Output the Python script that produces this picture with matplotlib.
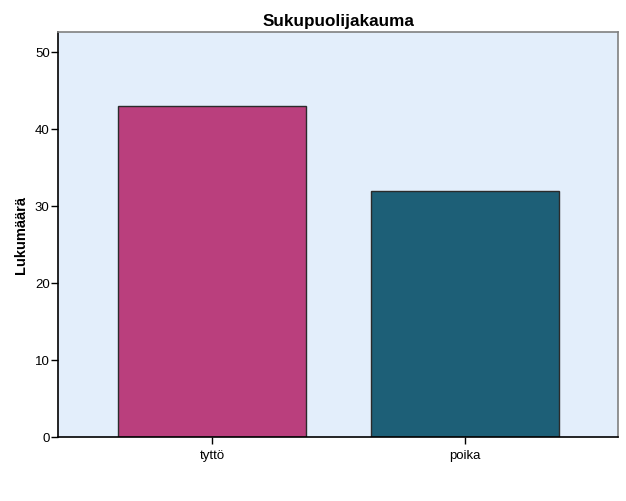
import matplotlib.pyplot as plt

categories = ['tyttö', 'poika']
counts = [43, 32]
bar_colors = ['#BA3F7D', '#1D5F77']
y_ticks = [0, 10, 20, 30, 40, 50]

plt.rcParams['font.family'] = ['Liberation Sans', 'DejaVu Sans']

fig = plt.figure(figsize=(6.26, 5.01), dpi=100)
# plot area in pixels: x 58..618, y 32..437
ax = fig.add_axes([58 / 626, (501 - 437) / 501, 560 / 626, 405 / 501])
ax.set_facecolor('#E3EEFB')

x = list(range(len(categories)))
ax.bar(x, counts, width=0.743, color=bar_colors, edgecolor='#2b2b2b', linewidth=1.0, zorder=2)

ax.set_xlim(-0.609, 1.605)
ax.set_ylim(0, 52.6)
ax.set_xticks(x)
ax.set_xticklabels(categories)
ax.set_yticks(y_ticks)

ax.tick_params(axis='both', which='major', labelsize=9.5, length=5, width=1, direction='out', color='black')
ax.tick_params(axis='x', pad=4)
ax.tick_params(axis='y', pad=1)

ax.spines['left'].set_color('black')
ax.spines['bottom'].set_color('black')
ax.spines['top'].set_color('#808080')
ax.spines['right'].set_color('#808080')
for s in ax.spines.values():
    s.set_linewidth(1.2)

ax.set_title('Sukupuolijakauma', fontsize=12.3, fontweight='bold', pad=4)
ax.set_ylabel('Lukumäärä', fontsize=10.5, fontweight='bold', labelpad=5)

plt.savefig('out.png', dpi=100)
